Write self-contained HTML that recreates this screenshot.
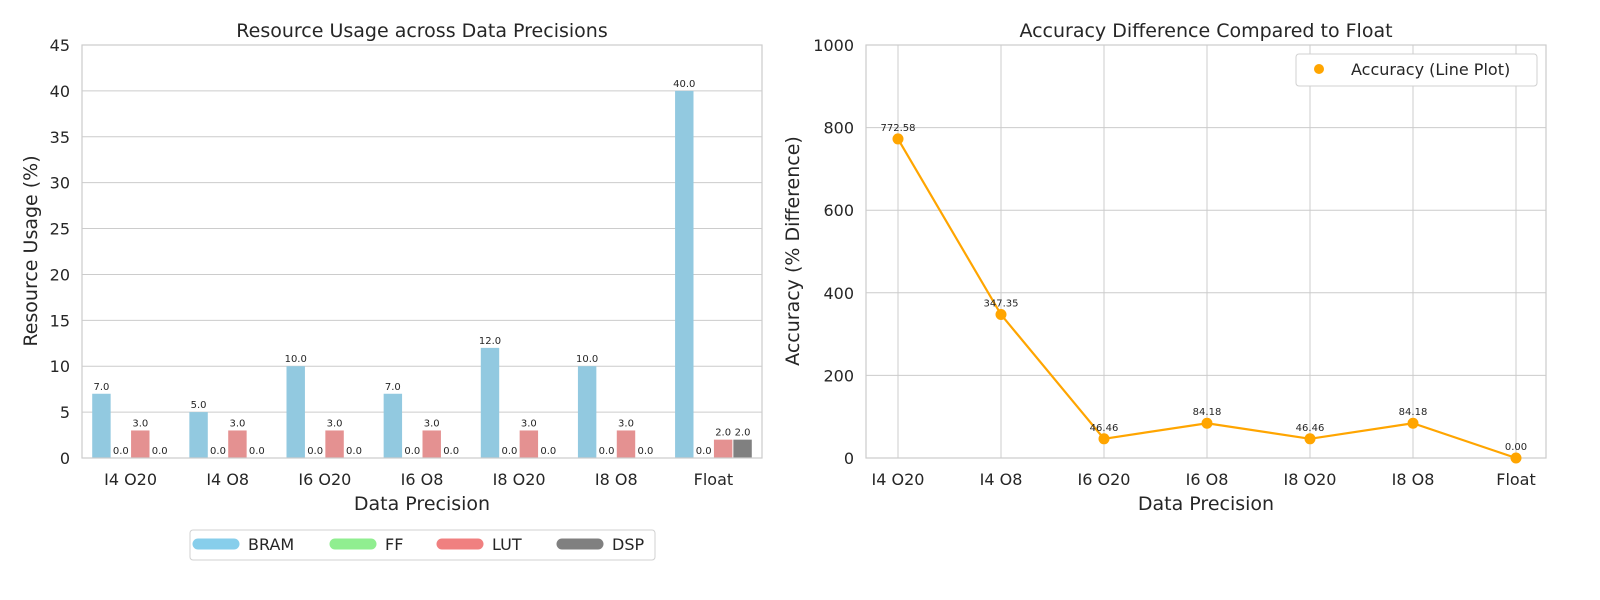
<!DOCTYPE html>
<html><head><meta charset="utf-8"><style>
html,body{margin:0;padding:0;background:#fff;overflow:hidden;width:1600px;height:600px;font-family:"Liberation Sans","DejaVu Sans",sans-serif}
svg{display:block}
svg text{font-family:"DejaVu Sans","Liberation Sans",sans-serif}
</style></head><body>
<svg id="c" width="1600" height="600" xmlns="http://www.w3.org/2000/svg"></svg>
<script>
const categories=["I4 O20","I4 O8","I6 O20","I6 O8","I8 O20","I8 O8","Float"];
const bram=[7,5,10,7,12,10,40];
const ff=[0,0,0,0,0,0,0];
const lut=[3,3,3,3,3,3,2];
const dsp=[0,0,0,0,0,0,2];
const leftTicks=[0,5,10,15,20,25,30,35,40,45];
const accuracy=[772.58,347.35,46.46,84.18,46.46,84.18,0.00];
const rightTicks=[0,200,400,600,800,1000];
const seriesNames=["BRAM","FF","LUT","DSP"];

const svg=document.getElementById('c');
const NS="http://www.w3.org/2000/svg";
function el(t,a,p){const e=document.createElementNS(NS,t);for(const k in a)e.setAttribute(k,a[k]);(p||svg).appendChild(e);return e;}
function tx(x,y,s,size,anchor,extra){const e=el('text',Object.assign({x:x,y:y,'font-size':size,'text-anchor':anchor||'middle',fill:'#262626'},extra||{}));e.textContent=s;return e;}

// LEFT
const L={x0:82,x1:762,y0:45,y1:458,max:45};
const ly=v=>L.y1-(v/L.max)*(L.y1-L.y0);
const lstep=(L.x1-L.x0)/categories.length;
const lx=i=>L.x0+lstep*(i+0.5);
el('rect',{x:L.x0,y:L.y0,width:L.x1-L.x0,height:L.y1-L.y0,fill:'#fff'});
leftTicks.forEach(t=>{
 const g=el('line',{x1:L.x0,x2:L.x1,y1:ly(t),y2:ly(t),stroke:'#cccccc','stroke-width':1});
 
 const l=tx(L.x0-12,ly(t)+6,String(t),16,'end');
 
});
const colors=["#92c9e0","#8de58d","#e49191","#808080"];
const series=[bram,ff,lut,dsp];
const bw=lstep*0.8/4;
series.forEach((s,si)=>{
 s.forEach((v,i)=>{
  const x=lx(i)-lstep*0.4+bw*si;
  const r=el('rect',{x:x+0.5,y:ly(v),width:bw-1,height:L.y1-ly(v),fill:colors[si]});
  
  
  const t=tx(x+bw/2,ly(v)-4,v.toFixed(1),10);
  
 });
});
el('rect',{x:L.x0,y:L.y0,width:L.x1-L.x0,height:L.y1-L.y0,fill:'none',stroke:'#cccccc','stroke-width':1.2});
categories.forEach((c,i)=>{const t=tx(lx(i),485,c,16);});
let t=tx(422,37,"Resource Usage across Data Precisions",19);
t=tx(422,510,"Data Precision",19);
t=tx(37,251,"Resource Usage (%)",19,'middle',{transform:'rotate(-90 37 251)'});
const lg=el('g',{});
el('rect',{x:190,y:530,width:465,height:30,rx:3,fill:'#fff',stroke:'#d0d0d0'},lg);
const legX=[190,327,434,554];
const legC=["#87ceeb","#90ee90","#f08080","#808080"];
seriesNames.forEach((n,i)=>{
 const e=el('line',{x1:legX[i]+8,x2:legX[i]+44,y1:544,y2:544,stroke:legC[i],'stroke-width':11,'stroke-linecap':'round'},lg);
 
 const tt=tx(legX[i]+58,550,n,16,'start');lg.appendChild(tt);
});

// RIGHT
const R={x0:866,x1:1546,y0:45,y1:458,max:1000};
const ry=v=>R.y1-(v/R.max)*(R.y1-R.y0);
const rx=i=>898+i*(1516-898)/(categories.length-1);
rightTicks.forEach(tk=>{
 const g=el('line',{x1:R.x0,x2:R.x1,y1:ry(tk),y2:ry(tk),stroke:'#cccccc'});
 
 const l=tx(R.x0-12,ry(tk)+6,String(tk),16,'end');
});
categories.forEach((c,i)=>{
 const g=el('line',{x1:rx(i),x2:rx(i),y1:R.y0,y2:R.y1,stroke:'#cccccc'});
 
 const l=tx(rx(i),485,c,16);
});
el('rect',{x:R.x0,y:R.y0,width:R.x1-R.x0,height:R.y1-R.y0,fill:'none',stroke:'#cccccc','stroke-width':1.2});
const pl=el('polyline',{points:accuracy.map((v,i)=>rx(i)+','+ry(v)).join(' '),fill:'none',stroke:'#ffa500','stroke-width':2.2});

accuracy.forEach((v,i)=>{
 const p=el('circle',{cx:rx(i),cy:ry(v),r:5.5,fill:'#ffa500'});
 
 const l=tx(rx(i),ry(v)-8,v.toFixed(2),10);
});
t=tx(1206,37,"Accuracy Difference Compared to Float",19);
t=tx(1206,510,"Data Precision",19);
t=tx(799,251,"Accuracy (% Difference)",19,'middle',{transform:'rotate(-90 799 251)'});
const rg=el('g',{});
el('rect',{x:1296,y:54,width:241,height:32,rx:3,fill:'#fff',stroke:'#d0d0d0'},rg);
const lc=el('circle',{cx:1319,cy:69,r:5,fill:'#ffa500'},rg);
const lt=tx(1351,75,"Accuracy (Line Plot)",16,'start');rg.appendChild(lt);
</script>
</body></html>
